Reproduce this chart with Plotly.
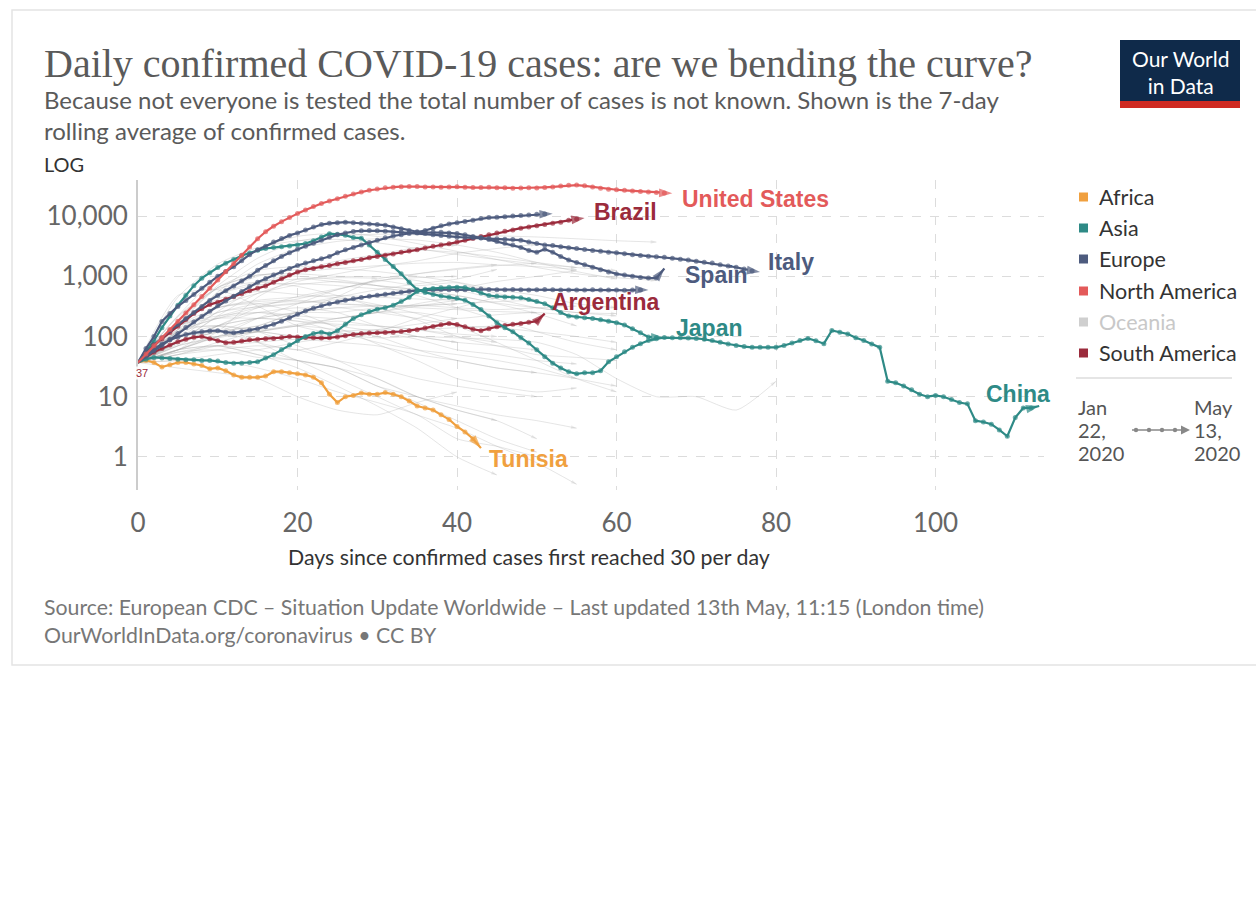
import math
import plotly.graph_objects as go

# 7-day rolling average of daily confirmed cases, indexed by days since
# confirmed cases first reached 30 per day (one value per day, day 0 first).
united_states = [
    37, 51, 70, 95, 131, 179, 245, 337, 461, 632,
    867, 1190, 1630, 2230, 3060, 4200, 5500, 6800, 8100, 9500,
    11000, 12600, 14400, 16200, 17800, 19500, 21400, 23400, 25100, 26900,
    28200, 29500, 30200, 30800, 31000, 31000, 30500, 30600, 30200, 30400,
    30800, 30300, 29800, 29900, 30300, 29700, 29500, 29100, 29300, 29600,
    29400, 30000, 30500, 31500, 32500, 32800, 31800, 30500, 29000, 28000,
    27400, 26800, 26200, 25700, 25200, 24600, 24200, 24000,
]
brazil = [
    37, 52, 72, 91, 117, 148, 191, 240, 288, 339,
    372, 417, 457, 513, 575, 631, 692, 794, 912, 1047,
    1175, 1288, 1349, 1445, 1514, 1622, 1698, 1820, 1905, 2042,
    2138, 2239, 2344, 2512, 2630, 2754, 2951, 3162, 3311, 3467,
    3715, 3981, 4266, 4571, 4898, 5248, 5623, 5888, 6310, 6607,
    6918, 7244, 7586, 7943, 8511, 8913, 9333,
]
argentina = [
    37, 45, 55, 63, 72, 82, 90, 97, 100, 92,
    85, 79, 80, 84, 88, 90, 92, 93, 96, 100,
    98, 96, 95, 94, 95, 98, 103, 108, 112, 114,
    115, 116, 118, 121, 125, 130, 138, 147, 157, 165,
    158, 145, 132, 125, 135, 145, 152, 160, 165, 172,
    180, 240,
]
spain = [
    37, 63, 100, 178, 240, 316, 398, 501, 631, 794,
    1000, 1202, 1445, 1820, 2291, 2754, 3162, 3715, 4266, 4786,
    5248, 5888, 6607, 7244, 7586, 7762, 7943, 7762, 7586, 7413,
    7244, 7079, 6607, 6166, 5754, 5495, 5370, 5370, 5370, 5248,
    5129, 4898, 4571, 4365, 4074, 3802, 3548, 3311, 3020, 2692,
    2512, 2818, 2512, 2138, 1862, 1698, 1549, 1413, 1288, 1175,
    1096, 1047, 1000, 955, 933, 933, 1349,
]
italy = [
    37, 52, 72, 95, 126, 158, 200, 251, 316, 398,
    479, 575, 692, 832, 1000, 1259, 1514, 1820, 2138, 2455,
    2818, 3162, 3548, 3981, 4467, 4898, 5248, 5559, 5689, 5754,
    5689, 5623, 5495, 5433, 5370, 5248, 5129, 4898, 4786, 4624,
    4467, 4416, 4365, 4315, 4266, 4217, 4121, 4074, 3981, 3715,
    3508, 3311, 3236, 3090, 2985, 2884, 2786, 2692, 2600, 2512,
    2455, 2371, 2291, 2213, 2163, 2113, 2065, 1995, 1928, 1862,
    1778, 1718, 1660, 1549, 1479, 1413, 1318, 1230, 1175,
]
russia = [
    37, 47, 58, 71, 89, 112, 141, 174, 214, 263,
    324, 389, 468, 562, 676, 794, 912, 1047, 1175, 1349,
    1514, 1660, 1820, 1950, 2138, 2455, 2754, 3020, 3311, 3631,
    3981, 4365, 4677, 4898, 5129, 5370, 5754, 6310, 6918, 7413,
    7762, 8128, 8511, 9120, 9441, 9550, 9772, 10000, 10233, 10471,
    10715, 10839, 10965,
]
sweden = [
    37, 48, 62, 75, 88, 98, 108, 115, 120, 124,
    125, 118, 115, 120, 128, 135, 145, 160, 180, 205,
    235, 265, 295, 325, 350, 375, 400, 425, 445, 465,
    485, 505, 525, 545, 565, 585, 595, 600, 605, 600,
    595, 600, 610, 615, 605, 600, 600, 605, 600, 595,
    600, 605, 600, 595, 590, 590, 595, 600, 595, 590,
    590, 585, 590, 595, 590,
]
japan = [
    37, 42, 45, 44, 43, 42, 41, 41, 40, 40,
    39, 37, 36, 36, 37, 38, 44, 50, 60, 72,
    85, 100, 112, 118, 110, 125, 160, 200, 230, 260,
    285, 300, 330, 380, 450, 560, 610, 630, 645, 655,
    660, 650, 600, 530, 480, 465, 455, 450, 440, 410,
    380, 350, 300, 250, 220, 210, 205, 200, 190, 180,
    170, 155, 135, 115, 98, 96, 95,
]
china = [
    37, 55, 85, 140, 220, 330, 480, 700, 930, 1150,
    1400, 1650, 1900, 2200, 2450, 2700, 2900, 3000, 3100, 3200,
    3300, 3500, 3900, 4500, 5100, 5000, 4800, 4400, 4300, 3300,
    2500, 1900, 1450, 1100, 800, 600, 540, 500, 470, 450,
    430, 400, 340, 280, 220, 170, 140, 120, 96, 78,
    60, 46, 36, 30, 26, 24, 25, 25, 27, 38,
    46, 56, 66, 76, 86, 92, 96, 95, 95, 94,
    93, 90, 86, 80, 75, 71, 68, 66, 66, 66,
    66, 71, 78, 86, 93, 85, 76, 126, 118, 110,
    95, 86, 75, 66, 18, 17, 15, 13, 11, 10,
    10.5, 10, 9, 8, 7.6, 4, 3.8, 3.5, 2.8, 2.2,
    4.5, 6.5, 6.5, 7,
]
tunisia = [
    37, 40, 37, 31, 34, 37, 37, 35, 33, 29,
    30, 27, 23, 21, 21, 21, 22, 26, 26, 25,
    24, 23, 21, 17, 11, 8, 10, 10.5, 11.5, 11,
    11, 11.7, 11, 10, 8.5, 7, 6.5, 6, 5, 4.2,
    3.2, 2.6, 2, 1.4,
]

# Other countries, drawn faintly in the background (one value every 5 days).
GRAY_STEP = 5
other_countries = {
    "United Kingdom": [37, 180, 700, 2000, 3800, 4700, 5000, 4900, 4800, 4700, 4500, 4200, 3900, 3700],
    "Germany": [37, 220, 1000, 2800, 4600, 5200, 4600, 3500, 2600, 1900, 1400, 1100, 950, 850],
    "France": [37, 130, 550, 1600, 2900, 3800, 4200, 4000, 3300, 2500, 1700, 1200, 900],
    "Turkey": [37, 450, 1600, 3000, 3900, 4100, 3600, 2900, 2300, 1900, 1600, 1400],
    "Iran": [37, 160, 520, 1000, 1300, 1500, 2100, 2700, 2500, 2100, 1700, 1400, 1250],
    "Canada": [37, 110, 320, 750, 1150, 1350, 1500, 1650, 1700, 1550, 1450, 1300],
    "India": [37, 80, 220, 520, 820, 1100, 1450, 1800, 2400, 2900, 3400],
    "Peru": [37, 90, 260, 650, 1200, 1800, 2300, 3000, 3300],
    "Belgium": [37, 160, 650, 1250, 1450, 1350, 1200, 1000, 800, 600, 480, 350, 300],
    "Netherlands": [37, 210, 650, 1050, 1100, 1000, 980, 850, 600, 420, 300, 250, 220],
    "Switzerland": [37, 170, 650, 1050, 1000, 880, 700, 480, 300, 190, 120, 80, 60],
    "Austria": [37, 220, 620, 800, 680, 480, 300, 190, 100, 70, 50, 45, 40],
    "Portugal": [37, 160, 500, 720, 760, 700, 620, 580, 480, 360, 300, 250, 240],
    "Israel": [37, 150, 420, 560, 500, 440, 340, 240, 150, 80, 40, 20, 12],
    "Ireland": [37, 120, 320, 520, 720, 820, 700, 600, 480, 350, 240, 150],
    "Chile": [37, 100, 250, 310, 360, 410, 460, 510, 620, 820, 1000, 1250],
    "Ecuador": [37, 80, 210, 320, 420, 600, 850, 700, 780, 520, 400],
    "Mexico": [37, 75, 150, 300, 460, 620, 820, 1100, 1350, 1550],
    "Saudi Arabia": [37, 80, 120, 150, 260, 460, 900, 1100, 1300, 1500, 1650],
    "Pakistan": [37, 120, 200, 300, 350, 450, 600, 750, 900, 1300],
    "Qatar": [37, 60, 100, 200, 350, 600, 850, 950, 1000],
    "Belarus": [37, 150, 500, 800, 900, 950, 930],
    "Singapore": [37, 60, 120, 450, 900, 800, 700, 600],
    "Poland": [37, 150, 300, 380, 400, 350, 320, 330, 300, 280, 300, 320],
    "Romania": [37, 150, 250, 350, 380, 350, 330, 300, 280, 260, 250],
    "Ukraine": [37, 120, 300, 400, 450, 480, 450, 420, 400],
    "Indonesia": [37, 80, 120, 150, 250, 300, 320, 330, 350, 380, 400],
    "Dominican Republic": [37, 70, 150, 200, 250, 250, 300, 320, 350],
    "Colombia": [37, 70, 100, 120, 160, 200, 250, 320, 400],
    "Egypt": [37, 50, 80, 120, 150, 200, 250, 350, 450],
    "Philippines": [37, 60, 150, 250, 220, 200, 250, 250, 200, 230, 250, 220],
    "Denmark": [37, 80, 120, 200, 250, 300, 250, 200, 150, 140, 120, 100, 80],
    "Czechia": [37, 150, 220, 250, 200, 150, 120, 90, 60, 50, 40, 35],
    "Serbia": [37, 120, 200, 250, 300, 250, 150, 100, 80, 70, 60],
    "South Africa": [37, 120, 150, 80, 60, 80, 120, 200, 300, 450],
    "Norway": [37, 150, 200, 200, 180, 120, 80, 60, 50, 40, 30, 20, 15],
    "Panama": [37, 80, 150, 200, 180, 160, 150, 130, 110, 100],
    "Morocco": [37, 60, 100, 120, 150, 180, 150, 130, 100, 80],
    "Algeria": [37, 70, 95, 120, 100, 110, 120, 130, 140, 150],
    "Finland": [37, 60, 100, 120, 100, 120, 130, 100, 80],
    "Bahrain": [37, 40, 50, 60, 80, 100, 130, 160, 200],
    "Malaysia": [37, 100, 150, 130, 150, 130, 100, 60, 40, 30, 25, 20],
    "Australia": [37, 130, 300, 350, 250, 140, 75, 40, 20, 15, 12, 14],
    "Luxembourg": [37, 130, 150, 120, 70, 40, 20, 10, 7, 5, 4, 3],
    "Hungary": [37, 50, 70, 80, 90, 80, 70, 50, 40, 30, 25],
    "Greece": [37, 50, 60, 70, 60, 40, 30, 20, 15, 12, 10],
    "Estonia": [37, 55, 60, 45, 40, 30, 20, 10, 6, 4],
    "Croatia": [37, 60, 70, 50, 40, 30, 15, 10, 6, 4, 2],
    "Thailand": [37, 100, 120, 80, 40, 30, 15, 8, 4, 2, 1.2],
    "Iceland": [37, 60, 70, 50, 30, 15, 7, 3, 1, 0.5],
    "Slovenia": [37, 40, 40, 30, 20, 12, 8, 5, 2, 1.5, 1],
    "Lebanon": [37, 30, 25, 20, 10, 6, 5, 8, 12],
    "New Zealand": [37, 55, 70, 60, 40, 20, 10, 5, 3, 1.5, 0.8, 0.35],
    "South Korea": [37, 480, 600, 320, 150, 110, 95, 100, 95, 90, 80, 50, 20, 10, 10, 6, 18],
}

# Highlighted countries: (label, continent, series)
highlighted = [
    ("Tunisia", "Africa", tunisia),
    ("Argentina", "South America", argentina),
    ("Sweden", "Europe", sweden),
    ("Japan", "Asia", japan),
    ("China", "Asia", china),
    ("Brazil", "South America", brazil),
    ("Russia", "Europe", russia),
    ("Italy", "Europe", italy),
    ("Spain", "Europe", spain),
    ("United States", "North America", united_states),
]

continents = ["Africa", "Asia", "Europe", "North America", "Oceania", "South America"]
continent_colors = {
    "Africa": "#F0A03F",
    "Asia": "#2E8A86",
    "Europe": "#4D5B7E",
    "North America": "#E35A5A",
    "Oceania": "#CFCFCF",
    "South America": "#9B2B3C",
}

# Where each end label sits: (day, cases) of its left-middle point
label_at = {
    "United States": (68.0, 19200),
    "Brazil": (56.9, 11700),
    "Italy": (78.8, 1710),
    "Spain": (68.3, 1040),
    "Argentina": (51.6, 369),
    "Japan": (67.2, 141),
    "China": (106.1, 11.2),
    "Tunisia": (43.7, 0.93),
}

x_ticks = [0, 20, 40, 60, 80, 100]
y_ticks = [1, 10, 100, 1000, 10000]
y_tick_text = ["1", "10", "100", "1,000", "10,000"]

# ---- page geometry (pixels) ----
W, H = 1256, 915
PL, PR, PT, PB = 138, 1044, 180, 490
Y_LOG_RANGE = [-0.55, 4.6]


def px(x):
    return (x - PL) / (PR - PL)


def py(y):
    return (PB - y) / (PB - PT)


fig = go.Figure()

gray = "rgba(170,170,170,0.30)"
for name, vals in other_countries.items():
    n = len(vals)
    fig.add_trace(go.Scatter(
        x=[i * GRAY_STEP for i in range(n)], y=vals, mode="lines+markers",
        line=dict(color=gray, width=1, shape="spline", smoothing=0.6),
        marker=dict(size=[0] * (n - 1) + [6], symbol=["circle"] * (n - 1) + ["arrow"],
                    angleref="previous", color=gray, line=dict(width=0)),
        hoverinfo="skip", showlegend=False, name=name, cliponaxis=False,
    ))

for name, cont, vals in highlighted:
    n = len(vals)
    c = continent_colors[cont]
    fig.add_trace(go.Scatter(
        x=list(range(n)), y=vals, mode="lines+markers",
        line=dict(color=c, width=2.2),
        marker=dict(size=[5] * (n - 1) + [14], symbol=["circle"] * (n - 1) + ["arrow"],
                    angleref="previous", color=c, line=dict(width=0)),
        hoverinfo="skip", showlegend=False, name=name, cliponaxis=False,
    ))

annotations = []
shapes = []


def text(x, y, s, size, color, family="Lato", xanchor="left", yanchor="middle", align="left", **kw):
    annotations.append(dict(
        x=px(x), y=py(y), xref="paper", yref="paper", text=s, showarrow=False,
        xanchor=xanchor, yanchor=yanchor, align=align,
        font=dict(family=family, size=size, color=color), **kw))


# Card outline
shapes.append(dict(type="rect", xref="paper", yref="paper", x0=px(12), x1=px(1262),
                   y0=py(665), y1=py(10), line=dict(color="#e4e4e4", width=1.5)))

# Header
text(42, 63, "Daily confirmed COVID-19 cases: are we bending the curve?", 40, "#5a5a5a",
     family="Liberation Serif")
text(42, 115, "Because not everyone is tested the total number of cases is not known. Shown is the 7-day"
     "<br>rolling average of confirmed cases.", 24, "#5a5a5a")
text(42, 164, "LOG", 20, "#333333")

# Logo
shapes.append(dict(type="rect", xref="paper", yref="paper", x0=px(1120), x1=px(1240),
                   y0=py(108), y1=py(40), fillcolor="#0f2a4a", line=dict(width=0)))
shapes.append(dict(type="rect", xref="paper", yref="paper", x0=px(1120), x1=px(1240),
                   y0=py(108), y1=py(101), fillcolor="#cf2a22", line=dict(width=0)))
text(1180, 72, "Our World<br>in Data", 21, "white", xanchor="center", align="center")

# Continent legend
legend_y = [197, 228, 259, 291, 322, 353]
for cont, ly in zip(continents, legend_y):
    shapes.append(dict(type="rect", xref="paper", yref="paper", x0=px(1079), x1=px(1088),
                       y0=py(ly + 4.5), y1=py(ly - 4.5),
                       fillcolor=continent_colors[cont], line=dict(width=0)))
    text(1097, ly, cont, 21.5, "#c8c8c8" if cont == "Oceania" else "#333333")
shapes.append(dict(type="line", xref="paper", yref="paper", x0=px(1076), x1=px(1232),
                   y0=py(378), y1=py(378), line=dict(color="#dddddd", width=1.5)))

# Time-range hint
for row, (left, right) in zip([407, 430, 453], [("Jan", "May"), ("22,", "13,"), ("2020", "2020")]):
    text(1076, row, left, 20, "#555555")
    text(1192, row, right, 20, "#555555")
shapes.append(dict(type="line", xref="paper", yref="paper", x0=px(1132), x1=px(1183),
                   y0=py(430), y1=py(430), line=dict(color="#888888", width=1.5)))
for dx in [1136, 1149, 1162, 1175]:
    shapes.append(dict(type="circle", xref="paper", yref="paper", x0=px(dx - 2.2), x1=px(dx + 2.2),
                       y0=py(432.2), y1=py(427.8), fillcolor="#888888", line=dict(width=0)))
shapes.append(dict(type="path", xref="paper", yref="paper",
                   path=f"M {px(1181)},{py(425.5)} L {px(1190)},{py(430)} L {px(1181)},{py(434.5)} Z",
                   fillcolor="#888888", line=dict(width=0)))

# Axis title and footer
text(529, 557, "Days since confirmed cases first reached 30 per day", 21.3, "#333333", xanchor="center")
text(42, 621, "Source: European CDC – Situation Update Worldwide – Last updated 13th May, 11:15 (London time)"
     "<br>OurWorldInData.org/coronavirus • CC BY", 21.3, "#777777")

# Series end labels
series_continent = {name: cont for name, cont, _ in highlighted}
for name, (d, v) in label_at.items():
    annotations.append(dict(
        x=d, y=math.log10(v), xref="x", yref="y", text=f"<b>{name}</b>", showarrow=False,
        xanchor="left", yanchor="middle",
        font=dict(family="Liberation Sans", size=23, color=continent_colors[series_continent[name]])))

# Start value marker
annotations.append(dict(
    x=0.55, y=math.log10(united_states[0]), xref="x", yref="y", text=str(united_states[0]),
    showarrow=False, xanchor="center", yanchor="top", yshift=-3,
    bgcolor="rgba(255,255,255,0.85)", borderpad=0,
    font=dict(family="Liberation Sans", size=11, color="#9B2B3C")))

fig.update_layout(
    width=W, height=H,
    margin=dict(l=PL, r=W - PR, t=PT, b=H - PB),
    paper_bgcolor="white", plot_bgcolor="white",
    showlegend=False,
    annotations=annotations, shapes=shapes,
    xaxis=dict(range=[0, 113.6], tickvals=x_ticks, showgrid=True, gridcolor="#dcdcdc",
               griddash="dash", gridwidth=1, zeroline=False, showline=False,
               ticks="outside", ticklen=10, tickcolor="rgba(0,0,0,0)",
               tickfont=dict(family="Lato", size=26, color="#666666")),
    yaxis=dict(type="log", range=Y_LOG_RANGE, tickvals=y_ticks, ticktext=y_tick_text,
               showgrid=True, gridcolor="#dcdcdc", griddash="dash", gridwidth=1,
               zeroline=False, showline=True, linecolor="#cccccc", linewidth=2,
               ticks="outside", ticklen=3, tickcolor="rgba(0,0,0,0)",
               tickfont=dict(family="Lato", size=26, color="#666666")),
)

fig.write_html("out.html")
